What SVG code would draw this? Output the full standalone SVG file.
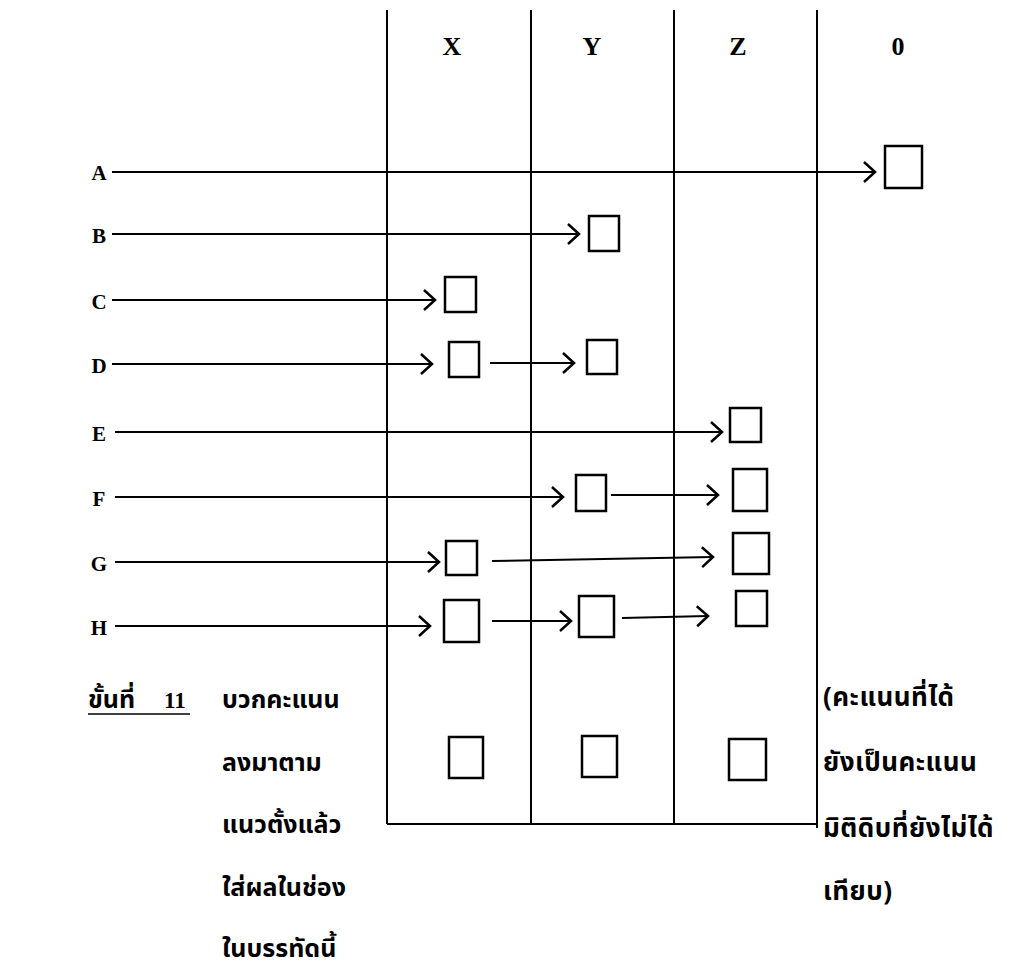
<svg xmlns="http://www.w3.org/2000/svg" width="1013" height="971" viewBox="0 0 1013 971">
<style>
.frame{stroke:#000;stroke-width:2;fill:none}
.box{stroke:#000;stroke-width:2.5;fill:#fff}
.arr{stroke:#000;stroke-width:2;fill:none;marker-end:url(#chev)}
.hdr{font-family:"Liberation Serif",serif;font-weight:bold;font-size:26px;text-anchor:middle}
.lbl{font-family:"Liberation Serif",serif;font-weight:bold;font-size:21px;text-anchor:middle}
.num{font-family:"Liberation Serif",serif;font-weight:bold;font-size:23px}
.th{font-family:"Noto Sans Thai","Noto Sans","DejaVu Sans",sans-serif;font-weight:bold;font-size:25px}
.thr{font-family:"Noto Sans Thai","Noto Sans","DejaVu Sans",sans-serif;font-weight:bold;font-size:26px;letter-spacing:0.5px}
</style>
<defs>
<marker id="chev" markerUnits="userSpaceOnUse" markerWidth="16" markerHeight="24" refX="13" refY="11" orient="auto">
<path d="M2,1 L13,11 L2,21" fill="none" stroke="#000" stroke-width="2.5"/>
</marker>
</defs>
<g id="table">
<line class="frame" x1="387" y1="10" x2="387" y2="824"/>
<line class="frame" x1="531" y1="10" x2="531" y2="824"/>
<line class="frame" x1="674" y1="10" x2="674" y2="824"/>
<line class="frame" x1="817" y1="10" x2="817" y2="828"/>
<line class="frame" x1="387" y1="824" x2="817" y2="824"/>
<text class="hdr" x="452" y="55">X</text>
<text class="hdr" x="592" y="55">Y</text>
<text class="hdr" x="738" y="55">Z</text>
<text class="hdr" x="898" y="55">0</text>
</g>
<g id="connectors">
<line class="arr" x1="112" y1="172" x2="875" y2="172"/>
<line class="arr" x1="112" y1="234" x2="579" y2="234"/>
<line class="arr" x1="112" y1="300" x2="435" y2="300"/>
<line class="arr" x1="112" y1="364" x2="432" y2="364"/>
<line class="arr" x1="490" y1="363" x2="574" y2="363"/>
<line class="arr" x1="115" y1="432" x2="722" y2="432"/>
<line class="arr" x1="115" y1="497" x2="563" y2="497"/>
<line class="arr" x1="611" y1="495" x2="718" y2="495"/>
<line class="arr" x1="115" y1="562" x2="439" y2="562"/>
<line class="arr" x1="492" y1="561" x2="713" y2="557"/>
<line class="arr" x1="115" y1="626" x2="430" y2="626"/>
<line class="arr" x1="492" y1="621" x2="571" y2="621"/>
<line class="arr" x1="622" y1="618" x2="708" y2="616"/>
</g>
<g id="row-A"><text class="lbl" x="99" y="180">A</text><rect class="box" x="885" y="146" width="37" height="42"/></g>
<g id="row-B"><text class="lbl" x="99" y="243">B</text><rect class="box" x="589" y="216" width="30" height="35"/></g>
<g id="row-C"><text class="lbl" x="99" y="309">C</text><rect class="box" x="445" y="277" width="31" height="35"/></g>
<g id="row-D"><text class="lbl" x="99" y="373">D</text><rect class="box" x="449" y="342" width="30" height="35"/><rect class="box" x="587" y="340" width="30" height="34"/></g>
<g id="row-E"><text class="lbl" x="99" y="441">E</text><rect class="box" x="730" y="408" width="31" height="34"/></g>
<g id="row-F"><text class="lbl" x="99" y="506">F</text><rect class="box" x="576" y="475" width="30" height="36"/><rect class="box" x="733" y="469" width="34" height="42"/></g>
<g id="row-G"><text class="lbl" x="99" y="571">G</text><rect class="box" x="446" y="541" width="31" height="34"/><rect class="box" x="733" y="533" width="36" height="41"/></g>
<g id="row-H"><text class="lbl" x="99" y="635">H</text><rect class="box" x="444" y="600" width="35" height="42"/><rect class="box" x="579" y="596" width="35" height="41"/><rect class="box" x="736" y="591" width="31" height="35"/></g>
<g id="sum-row">
<rect class="box" x="449" y="737" width="34" height="41"/>
<rect class="box" x="582" y="736" width="35" height="41"/>
<rect class="box" x="729" y="739" width="37" height="41"/>
</g>
<g id="step-11">
<text class="th" x="88" y="708">ขั้นที่</text>
<text class="num" x="164" y="708">11</text>
<line x1="88" y1="714" x2="190" y2="714" stroke="#000" stroke-width="1.5"/>
<text class="th" x="222" y="708">บวกคะแนน</text>
<text class="th" x="222" y="771">ลงมาตาม</text>
<text class="th" x="222" y="833">แนวตั้งแล้ว</text>
<text class="th" x="222" y="896">ใส่ผลในช่อง</text>
<text class="th" x="222" y="957">ในบรรทัดนี้</text>
</g>
<g id="note">
<text class="thr" x="823" y="706">(คะแนนที่ได้</text>
<text class="thr" x="823" y="771">ยังเป็นคะแนน</text>
<text class="thr" x="823" y="837">มิติดิบที่ยังไม่ได้</text>
<text class="thr" x="823" y="900">เทียบ)</text>
</g>
</svg>
